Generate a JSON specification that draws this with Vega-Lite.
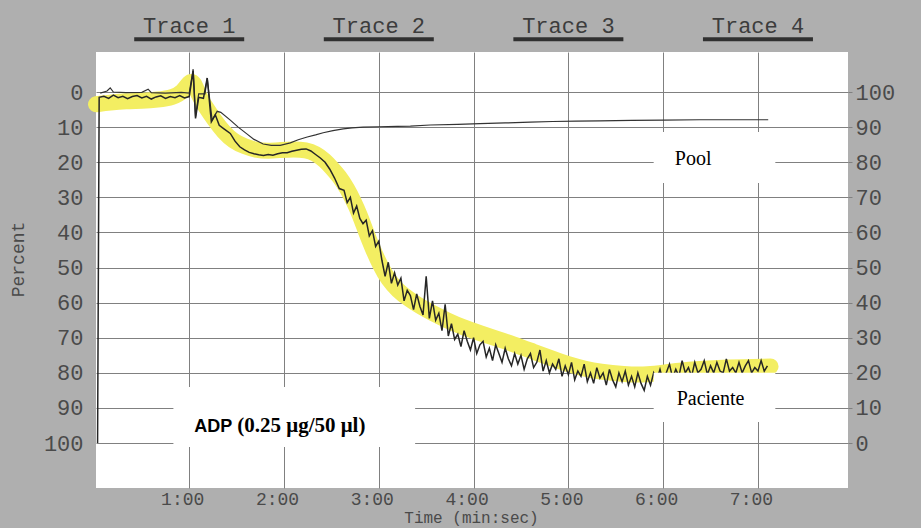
{
  "$schema": "https://vega.github.io/schema/vega-lite/v6.json",
  "width": 752,
  "height": 436,
  "autosize": {"type": "none"},
  "padding": {"left": 96, "top": 52, "right": 73, "bottom": 40},
  "background": "#afafaf",
  "config": {
    "view": {"fill": "white", "stroke": null},
    "axisLeft": {"labelFont": "Liberation Mono", "labelFontSize": 22, "labelColor": "#4a4a4a", "labelPadding": 13, "ticks": false, "domain": false, "gridColor": "#808080", "gridWidth": 1, "labelOverlap": false, "labelFlush": false},
    "axisRight": {"labelFont": "Liberation Mono", "labelFontSize": 22, "labelColor": "#4a4a4a", "labelPadding": 3, "ticks": true, "tickSize": 4, "tickColor": "#808080", "domain": false, "labelOverlap": false, "labelFlush": false},
    "axisBottom": {"labelFont": "Liberation Mono", "labelFontSize": 18, "labelColor": "#4a4a4a", "labelPadding": 2, "ticks": false, "domain": false, "labelBaseline": "top", "labelOffset": -7, "labelFlush": false, "labelOverlap": false, "gridColor": "#808080", "gridWidth": 1}
  },
  "datasets": {
    "band": [
      {"t": 1, "v": 3.5}, {"t": 10, "v": 3}, {"t": 20, "v": 2.6}, {"t": 30, "v": 2.5}, {"t": 40, "v": 2.2}, {"t": 50, "v": 1.5}, {"t": 56, "v": 0}, {"t": 60, "v": -3}, {"t": 63, "v": -3}, {"t": 66, "v": 1}, {"t": 70, "v": 4}, {"t": 76, "v": 8}, {"t": 82, "v": 11.5}, {"t": 88, "v": 14}, {"t": 95, "v": 15.5}, {"t": 102, "v": 16.5}, {"t": 110, "v": 16.8}, {"t": 118, "v": 16.5}, {"t": 126, "v": 16.3}, {"t": 134, "v": 16.5}, {"t": 140, "v": 17.5}, {"t": 146, "v": 19.5}, {"t": 150, "v": 21.5}, {"t": 155, "v": 24}, {"t": 160, "v": 27.5}, {"t": 164, "v": 31}, {"t": 168, "v": 35}, {"t": 172, "v": 40}, {"t": 176, "v": 44.5}, {"t": 181, "v": 49.5}, {"t": 186, "v": 53.5}, {"t": 192, "v": 56.5}, {"t": 199, "v": 59}, {"t": 206, "v": 61}, {"t": 214, "v": 63}, {"t": 223, "v": 65}, {"t": 233, "v": 67}, {"t": 244, "v": 68.7}, {"t": 255, "v": 70.3}, {"t": 265, "v": 71.8}, {"t": 278, "v": 74}, {"t": 290, "v": 76}, {"t": 300, "v": 77.6}, {"t": 310, "v": 78.8}, {"t": 320, "v": 79.7}, {"t": 335, "v": 80.4}, {"t": 350, "v": 80.6}, {"t": 365, "v": 79.6}, {"t": 380, "v": 79}, {"t": 400, "v": 78.4}, {"t": 428, "v": 78.2}
    ],
    "pool": [
      {"t": 3.7, "v": 0.3}, {"t": 8, "v": -0.3}, {"t": 10, "v": -1.2}, {"t": 12, "v": 0}, {"t": 20, "v": 0.2}, {"t": 30, "v": 0.1}, {"t": 34, "v": -0.8}, {"t": 36, "v": 0.2}, {"t": 45, "v": 0.3}, {"t": 55, "v": 0.1}, {"t": 60, "v": 0.3}, {"t": 62.5, "v": -6.5}, {"t": 64, "v": 7}, {"t": 66, "v": 0.5}, {"t": 70, "v": 0.5}, {"t": 71.4, "v": -4}, {"t": 74.5, "v": 8}, {"t": 77.7, "v": 5.5}, {"t": 80, "v": 5.8}, {"t": 86, "v": 8}, {"t": 91, "v": 10}, {"t": 96.7, "v": 12}, {"t": 101, "v": 13.5}, {"t": 106.8, "v": 14.8}, {"t": 112, "v": 15.2}, {"t": 117.6, "v": 15.2}, {"t": 124, "v": 14.5}, {"t": 129, "v": 13.6}, {"t": 134.7, "v": 12.8}, {"t": 140, "v": 12.2}, {"t": 144.8, "v": 11.6}, {"t": 151, "v": 11}, {"t": 157.5, "v": 10.5}, {"t": 163, "v": 10.2}, {"t": 170, "v": 10}, {"t": 180, "v": 9.9}, {"t": 191.6, "v": 9.8}, {"t": 200, "v": 9.7}, {"t": 212.5, "v": 9.4}, {"t": 230, "v": 9.2}, {"t": 244, "v": 9}, {"t": 260, "v": 8.8}, {"t": 275.8, "v": 8.6}, {"t": 290, "v": 8.4}, {"t": 305, "v": 8.3}, {"t": 320, "v": 8.2}, {"t": 340, "v": 8.1}, {"t": 360, "v": 8}, {"t": 383, "v": 7.9}, {"t": 405, "v": 7.9}, {"t": 426.5, "v": 7.9}
    ],
    "paciente": [
      {"t": 2, "v": 100}, {"t": 3, "v": 1.5}, {"t": 6, "v": 1.2}, {"t": 9, "v": 1.8}, {"t": 12, "v": 0.9}, {"t": 15, "v": 1.6}, {"t": 18, "v": 1.2}, {"t": 21, "v": 1.9}, {"t": 24, "v": 1.3}, {"t": 27, "v": 1.0}, {"t": 30, "v": 1.7}, {"t": 33, "v": 1.2}, {"t": 36, "v": 2.0}, {"t": 39, "v": 1.4}, {"t": 42, "v": 1.1}, {"t": 45, "v": 1.8}, {"t": 48, "v": 1.3}, {"t": 51, "v": 1.6}, {"t": 54, "v": 1.0}, {"t": 57, "v": 1.7}, {"t": 60, "v": 1.3}, {"t": 62.5, "v": -6}, {"t": 64, "v": 7.5}, {"t": 66, "v": 1.5}, {"t": 69, "v": 1.8}, {"t": 71.4, "v": -4}, {"t": 74, "v": 8.5}, {"t": 76.5, "v": 6.5}, {"t": 79, "v": 9.5}, {"t": 82, "v": 10.5}, {"t": 86, "v": 11.8}, {"t": 89, "v": 14}, {"t": 92, "v": 15.6}, {"t": 95, "v": 16.5}, {"t": 98, "v": 17.2}, {"t": 101, "v": 17.6}, {"t": 104, "v": 17.9}, {"t": 107, "v": 18.1}, {"t": 110, "v": 17.8}, {"t": 113, "v": 18}, {"t": 116, "v": 17.6}, {"t": 119, "v": 17.3}, {"t": 122, "v": 17.3}, {"t": 125, "v": 16.9}, {"t": 128, "v": 16.6}, {"t": 131, "v": 16.3}, {"t": 134, "v": 16.2}, {"t": 137, "v": 16.8}, {"t": 140, "v": 17.8}, {"t": 143, "v": 18.8}, {"t": 146, "v": 20}, {"t": 149, "v": 22}, {"t": 152, "v": 24.5}, {"t": 155, "v": 27.5},
      {"t": 158, "v": 28}, {"t": 160, "v": 31.5}, {"t": 162, "v": 30}, {"t": 164, "v": 34.5}, {"t": 166, "v": 32.5}, {"t": 168, "v": 36}, {"t": 170, "v": 37.5}, {"t": 172, "v": 36.5}, {"t": 174, "v": 41}, {"t": 176, "v": 39.5}, {"t": 178, "v": 44}, {"t": 180, "v": 42.5}, {"t": 182, "v": 48}, {"t": 184, "v": 52.5}, {"t": 186, "v": 48.5}, {"t": 188, "v": 54.5}, {"t": 190, "v": 51.5}, {"t": 192, "v": 55}, {"t": 194, "v": 53}, {"t": 196, "v": 59.5}, {"t": 198, "v": 56.5}, {"t": 200, "v": 58}, {"t": 202, "v": 62}, {"t": 204, "v": 57.5}, {"t": 206, "v": 61}, {"t": 208, "v": 63.5}, {"t": 210, "v": 52.5}, {"t": 212, "v": 64.5}, {"t": 214, "v": 59.5}, {"t": 216, "v": 65}, {"t": 218, "v": 63}, {"t": 220, "v": 68}, {"t": 222, "v": 60.5},
      {"t": 224, "v": 69.5}, {"t": 226, "v": 66}, {"t": 228, "v": 70.5}, {"t": 230, "v": 69}, {"t": 232, "v": 72.5}, {"t": 234, "v": 68}, {"t": 236, "v": 71}, {"t": 238, "v": 73.5}, {"t": 240, "v": 70}, {"t": 242, "v": 74.5}, {"t": 244, "v": 72}, {"t": 246, "v": 71}, {"t": 248, "v": 75.5}, {"t": 250, "v": 73}, {"t": 252, "v": 76.5}, {"t": 254, "v": 72}, {"t": 256, "v": 74.5}, {"t": 258, "v": 77}, {"t": 260, "v": 73}, {"t": 262, "v": 76}, {"t": 264, "v": 78}, {"t": 266, "v": 74.5}, {"t": 268, "v": 77.5}, {"t": 270, "v": 75}, {"t": 272, "v": 79}, {"t": 274, "v": 76}, {"t": 276, "v": 74.5}, {"t": 278, "v": 78.5}, {"t": 280, "v": 77}, {"t": 282, "v": 73.5}, {"t": 284, "v": 79.5}, {"t": 286, "v": 76.5}, {"t": 288, "v": 80}, {"t": 290, "v": 77.5}, {"t": 292, "v": 79}, {"t": 294, "v": 76}, {"t": 296, "v": 81}, {"t": 298, "v": 78}, {"t": 300, "v": 80.5}, {"t": 302, "v": 77}, {"t": 304, "v": 82}, {"t": 306, "v": 79.5}, {"t": 308, "v": 81}, {"t": 310, "v": 77.5}, {"t": 312, "v": 82.5}, {"t": 314, "v": 80}, {"t": 316, "v": 83}, {"t": 318, "v": 78.5}, {"t": 320, "v": 81.5}, {"t": 322, "v": 80}, {"t": 324, "v": 83.5}, {"t": 326, "v": 79}, {"t": 328, "v": 82}, {"t": 330, "v": 84}, {"t": 332, "v": 80}, {"t": 334, "v": 82.5}, {"t": 336, "v": 79.5}, {"t": 338, "v": 83.5}, {"t": 340, "v": 81}, {"t": 342, "v": 84}, {"t": 344, "v": 80}, {"t": 346, "v": 83}, {"t": 348, "v": 85}, {"t": 350, "v": 81}, {"t": 352, "v": 83.5}, {"t": 354, "v": 80}, {"t": 356, "v": 82}, {"t": 358, "v": 79}, {"t": 360, "v": 82.5}, {"t": 362, "v": 80}, {"t": 364, "v": 77.5}, {"t": 366, "v": 81.5}, {"t": 368, "v": 79}, {"t": 370, "v": 81}, {"t": 372, "v": 76.5}, {"t": 374, "v": 80}, {"t": 376, "v": 78.5}, {"t": 378, "v": 81}, {"t": 380, "v": 77}, {"t": 382, "v": 80}, {"t": 384, "v": 79}, {"t": 386, "v": 76.5}, {"t": 388, "v": 80.5}, {"t": 390, "v": 78}, {"t": 392, "v": 80}, {"t": 394, "v": 77}, {"t": 396, "v": 79.5}, {"t": 398, "v": 80}, {"t": 400, "v": 76}, {"t": 402, "v": 79.5}, {"t": 404, "v": 78.5}, {"t": 406, "v": 80}, {"t": 408, "v": 77}, {"t": 410, "v": 80}, {"t": 412, "v": 78}, {"t": 414, "v": 76.5}, {"t": 416, "v": 80}, {"t": 418, "v": 78.5}, {"t": 420, "v": 79.5}, {"t": 422, "v": 76.5}, {"t": 424, "v": 79.5}, {"t": 426, "v": 78}
    ],
    "boxes": [
      {"t": 354, "t2": 431, "v": 11.4, "v2": 25.9},
      {"t": 354, "t2": 431, "v": 80, "v2": 94},
      {"t": 50, "t2": 203, "v": 84, "v2": 101.1}
    ],
    "curveLabels": [
      {"label": "Pool", "t": 379, "v": 20.8},
      {"label": "Paciente", "t": 390, "v": 89.2}
    ],
    "traces": [
      {"label": "Trace 1", "t": 60},
      {"label": "Trace 2", "t": 180},
      {"label": "Trace 3", "t": 300},
      {"label": "Trace 4", "t": 420}
    ],
    "adpName": [{"label": "ADP", "t": 63.2, "v": 96.9}],
    "adpDose": [{"label": "(0.25 μg/50 μl)", "t": 90.4, "v": 96.9}]
  },
  "layer": [
    {
      "data": {"name": "band"},
      "mark": {"type": "line", "color": "#f3ee62", "strokeWidth": 16, "strokeCap": "round", "strokeJoin": "round", "interpolate": "basis"},
      "encoding": {
        "x": {"field": "t", "type": "quantitative", "scale": {"domain": [1, 477], "nice": false, "zero": false}, "axis": {"values": [60, 120, 180, 240, 300, 360, 420], "labelExpr": "floor(datum.value / 60) + ':00'", "grid": true, "title": "Time (min:sec)", "titleFont": "Liberation Mono", "titleFontSize": 16, "titleFontWeight": "normal", "titleColor": "#4a4a4a", "titleX": 375, "titleY": 34, "titleAlign": "center", "titleBaseline": "alphabetic"}},
        "y": {"field": "v", "type": "quantitative", "scale": {"domain": [-11.4, 112.8], "reverse": true, "nice": false, "zero": false}, "axis": {"orient": "left", "values": [0, 10, 20, 30, 40, 50, 60, 70, 80, 90, 100], "grid": true, "title": "Percent", "titleFont": "Liberation Mono", "titleFontSize": 18, "titleFontWeight": "normal", "titleColor": "#4a4a4a", "titleX": -78, "titleY": 207, "titleAngle": -90, "titleAlign": "center", "titleBaseline": "middle"}}
      }
    },
    {
      "data": {"name": "pool"},
      "mark": {"type": "line", "color": "#333333", "strokeWidth": 1.2},
      "encoding": {
        "x": {"field": "t", "type": "quantitative", "scale": {"domain": [1, 477], "nice": false, "zero": false}},
        "y": {"field": "v", "type": "quantitative", "scale": {"domain": [-11.4, 112.8], "reverse": true, "nice": false, "zero": false}, "axis": {"orient": "right", "values": [0, 10, 20, 30, 40, 50, 60, 70, 80, 90, 100], "labelExpr": "100 - datum.value", "grid": false, "title": null}}
      }
    },
    {
      "data": {"name": "paciente"},
      "mark": {"type": "line", "color": "#262626", "strokeWidth": 1.5},
      "encoding": {
        "x": {"field": "t", "type": "quantitative", "scale": {"domain": [1, 477], "nice": false, "zero": false}},
        "y": {"field": "v", "type": "quantitative", "scale": {"domain": [-11.4, 112.8], "reverse": true, "nice": false, "zero": false}, "axis": null}
      }
    },
    {
      "data": {"name": "boxes"},
      "mark": {"type": "rect", "color": "white"},
      "encoding": {
        "x": {"field": "t", "type": "quantitative", "scale": {"domain": [1, 477], "nice": false, "zero": false}},
        "x2": {"field": "t2"},
        "y": {"field": "v", "type": "quantitative", "scale": {"domain": [-11.4, 112.8], "reverse": true, "nice": false, "zero": false}, "axis": null},
        "y2": {"field": "v2"}
      }
    },
    {
      "data": {"name": "curveLabels"},
      "mark": {"type": "text", "font": "Liberation Serif", "fontSize": 20, "color": "black", "align": "center", "baseline": "alphabetic"},
      "encoding": {
        "x": {"field": "t", "type": "quantitative", "scale": {"domain": [1, 477], "nice": false, "zero": false}},
        "y": {"field": "v", "type": "quantitative", "scale": {"domain": [-11.4, 112.8], "reverse": true, "nice": false, "zero": false}, "axis": null},
        "text": {"field": "label"}
      }
    },
    {
      "data": {"name": "adpName"},
      "mark": {"type": "text", "font": "Liberation Sans", "fontSize": 18, "fontWeight": "bold", "color": "black", "align": "left", "baseline": "alphabetic"},
      "encoding": {
        "x": {"field": "t", "type": "quantitative", "scale": {"domain": [1, 477], "nice": false, "zero": false}},
        "y": {"field": "v", "type": "quantitative", "scale": {"domain": [-11.4, 112.8], "reverse": true, "nice": false, "zero": false}, "axis": null},
        "text": {"field": "label"}
      }
    },
    {
      "data": {"name": "adpDose"},
      "mark": {"type": "text", "font": "Liberation Serif", "fontSize": 21, "fontWeight": "bold", "color": "black", "align": "left", "baseline": "alphabetic"},
      "encoding": {
        "x": {"field": "t", "type": "quantitative", "scale": {"domain": [1, 477], "nice": false, "zero": false}},
        "y": {"field": "v", "type": "quantitative", "scale": {"domain": [-11.4, 112.8], "reverse": true, "nice": false, "zero": false}, "axis": null},
        "text": {"field": "label"}
      }
    },
    {
      "data": {"name": "traces"},
      "mark": {"type": "text", "font": "Liberation Mono", "fontSize": 22, "color": "#3c3c3c", "align": "center", "baseline": "alphabetic"},
      "encoding": {
        "x": {"field": "t", "type": "quantitative", "scale": {"domain": [1, 477], "nice": false, "zero": false}},
        "y": {"datum": -16.8, "type": "quantitative", "scale": {"domain": [-11.4, 112.8], "reverse": true, "nice": false, "zero": false}, "axis": null},
        "text": {"field": "label"}
      }
    },
    {
      "data": {"name": "traces"},
      "mark": {"type": "rule", "color": "#303030", "strokeWidth": 4, "xOffset": -55, "x2Offset": 55},
      "encoding": {
        "x": {"field": "t", "type": "quantitative", "scale": {"domain": [1, 477], "nice": false, "zero": false}},
        "x2": {"field": "t"},
        "y": {"datum": -15.0, "type": "quantitative", "scale": {"domain": [-11.4, 112.8], "reverse": true, "nice": false, "zero": false}, "axis": null}
      }
    }
  ],
  "resolve": {"axis": {"y": "independent"}}
}
